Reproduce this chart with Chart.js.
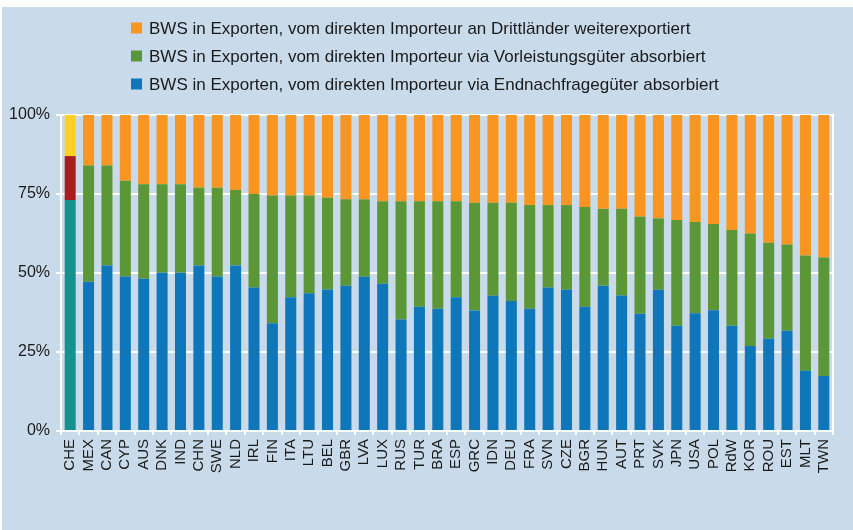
<!DOCTYPE html>
<html>
  <head>
    <title>BWS in Exporten</title>
    <style>
      body {
        margin: 0;
        background: #ffffff;
      }
      .chart-container {
        position: absolute;
        left: 2px;
        top: 7px;
        width: 851px;
        height: 523px;
        background: #c9dbea;
      }
    </style>
  </head>
  <body>
    <div class="chart-container">
      <canvas id="mycanvas" width="851" height="523"></canvas>
    </div>

    <script type="text/javascript" src="https://cdn.jsdelivr.net/npm/chart.js@4/dist/chart.umd.min.js"></script>
    <script>
      // Länder (RdW = Rest der Welt)
      var countries = ['CHE', 'MEX', 'CAN', 'CYP', 'AUS', 'DNK', 'IND', 'CHN', 'SWE', 'NLD',
        'IRL', 'FIN', 'ITA', 'LTU', 'BEL', 'GBR', 'LVA', 'LUX', 'RUS', 'TUR',
        'BRA', 'ESP', 'GRC', 'IDN', 'DEU', 'FRA', 'SVN', 'CZE', 'BGR', 'HUN',
        'AUT', 'PRT', 'SVK', 'JPN', 'USA', 'POL', 'RdW', 'KOR', 'ROU', 'EST',
        'MLT', 'TWN'];

      // Anteile in % der BWS in Exporten
      var endnachfrage = [73.1, 47.2, 52.4, 48.9, 48.2, 50.1, 50.1, 52.4, 48.9, 52.4,
        45.4, 34.1, 42.3, 43.6, 44.8, 46.0, 48.8, 46.6, 35.3, 39.3,
        38.7, 42.3, 38.1, 42.8, 41.1, 38.7, 45.4, 44.7, 39.3, 46.0,
        42.9, 37.1, 44.7, 33.3, 37.3, 38.2, 33.3, 26.9, 29.2, 31.7,
        19.1, 17.4];
      var vorleistung = [13.9, 36.8, 31.6, 30.3, 29.9, 28.0, 28.0, 24.6, 28.1, 23.9,
        29.6, 40.4, 32.2, 30.9, 29.0, 27.3, 24.5, 26.1, 37.4, 33.4,
        34.0, 30.4, 34.1, 29.4, 31.1, 32.8, 26.1, 26.8, 31.6, 24.3,
        27.4, 30.8, 22.6, 33.5, 28.8, 27.3, 30.3, 35.6, 30.4, 27.3,
        36.4, 37.5];
      var drittlaender = [13.0, 16.0, 16.0, 20.8, 21.9, 21.9, 21.9, 23.0, 23.0, 23.7,
        25.0, 25.5, 25.5, 25.5, 26.2, 26.7, 26.7, 27.3, 27.3, 27.3,
        27.3, 27.3, 27.8, 27.8, 27.8, 28.5, 28.5, 28.5, 29.1, 29.7,
        29.7, 32.1, 32.7, 33.2, 33.9, 34.5, 36.4, 37.5, 40.4, 41.0,
        44.5, 45.1];

      var yTicks = [0, 25, 50, 75, 100];

      var labelEnd = 'BWS in Exporten, vom direkten Importeur via Endnachfragegüter absorbiert';
      var labelVor = 'BWS in Exporten, vom direkten Importeur via Vorleistungsgüter absorbiert';
      var labelDritt = 'BWS in Exporten, vom direkten Importeur an Drittländer weiterexportiert';

      // CHE wird in eigenen Farben dargestellt
      function colors(main, che) {
        return countries.map(function (c) { return c === 'CHE' ? che : main; });
      }

      var fontFamily = "'Liberation Sans', Arial, Helvetica, sans-serif";

      // Legende oben, drei Zeilen, in umgekehrter Reihenfolge
      var legendPlugin = {
        id: 'rowLegend',
        afterDraw: function (chart) {
          var ctx = chart.ctx;
          var sets = chart.data.datasets.slice().reverse();
          ctx.save();
          ctx.font = '17px ' + fontFamily;
          ctx.textBaseline = 'middle';
          ctx.textAlign = 'left';
          for (var i = 0; i < sets.length; i++) {
            var y = 21 + i * 28;
            ctx.fillStyle = sets[i].legendColor;
            ctx.fillRect(129, y - 5.5, 11, 11);
            ctx.fillStyle = '#1a1a1a';
            ctx.fillText(sets[i].label, 147, y + 1);
          }
          ctx.restore();
        }
      };

      // weisser Rahmen rechts
      var framePlugin = {
        id: 'frame',
        afterDatasetsDraw: function (chart) {
          var a = chart.chartArea;
          var ctx = chart.ctx;
          ctx.save();
          ctx.strokeStyle = '#ffffff';
          ctx.lineWidth = 2;
          ctx.beginPath();
          ctx.moveTo(a.right, a.top - 1);
          ctx.lineTo(a.right, a.bottom + 1);
          ctx.stroke();
          ctx.restore();
        }
      };

      var chartdata = {
        labels: countries,
        datasets: [
          {
            label: labelEnd,
            data: endnachfrage,
            backgroundColor: colors('#0f76b9', '#17918e'),
            legendColor: '#0f76b9'
          },
          {
            label: labelVor,
            data: vorleistung,
            backgroundColor: colors('#5c9737', '#aa1d1f'),
            legendColor: '#5c9737'
          },
          {
            label: labelDritt,
            data: drittlaender,
            backgroundColor: colors('#f89621', '#fdd024'),
            legendColor: '#f89621'
          }
        ]
      };

      var ctx = document.getElementById('mycanvas');

      var StackedBars = new Chart(ctx, {
        type: 'bar',
        data: chartdata,
        options: {
          responsive: false,
          animation: false,
          barPercentage: 0.6,
          categoryPercentage: 1.0,
          layout: {
            padding: { top: 108, right: 20, left: 0, bottom: 0 }
          },
          plugins: {
            legend: { display: false },
            tooltip: { enabled: false }
          },
          scales: {
            x: {
              stacked: true,
              grid: {
                offset: true,
                drawOnChartArea: false,
                drawTicks: true,
                tickLength: 4,
                color: '#ffffff',
                lineWidth: 2
              },
              border: { color: '#ffffff', width: 2 },
              ticks: {
                autoSkip: false,
                minRotation: 90,
                maxRotation: 90,
                padding: 4,
                color: '#1a1a1a',
                font: { family: fontFamily, size: 15 }
              },
              afterFit: function (scale) { scale.height = 99; }
            },
            y: {
              stacked: true,
              min: 0,
              max: 100,
              afterBuildTicks: function (scale) {
                scale.ticks = yTicks.map(function (v) { return { value: v }; });
              },
              grid: {
                color: '#ffffff',
                lineWidth: 2,
                drawTicks: true,
                tickLength: 5
              },
              border: { color: '#ffffff', width: 2 },
              ticks: {
                padding: 6,
                color: '#1a1a1a',
                font: { family: fontFamily, size: 16 },
                callback: function (v) { return v + '%'; }
              },
              afterFit: function (scale) { scale.width = 59; }
            }
          }
        },
        plugins: [legendPlugin, framePlugin]
      });
    </script>
  </body>
</html>
